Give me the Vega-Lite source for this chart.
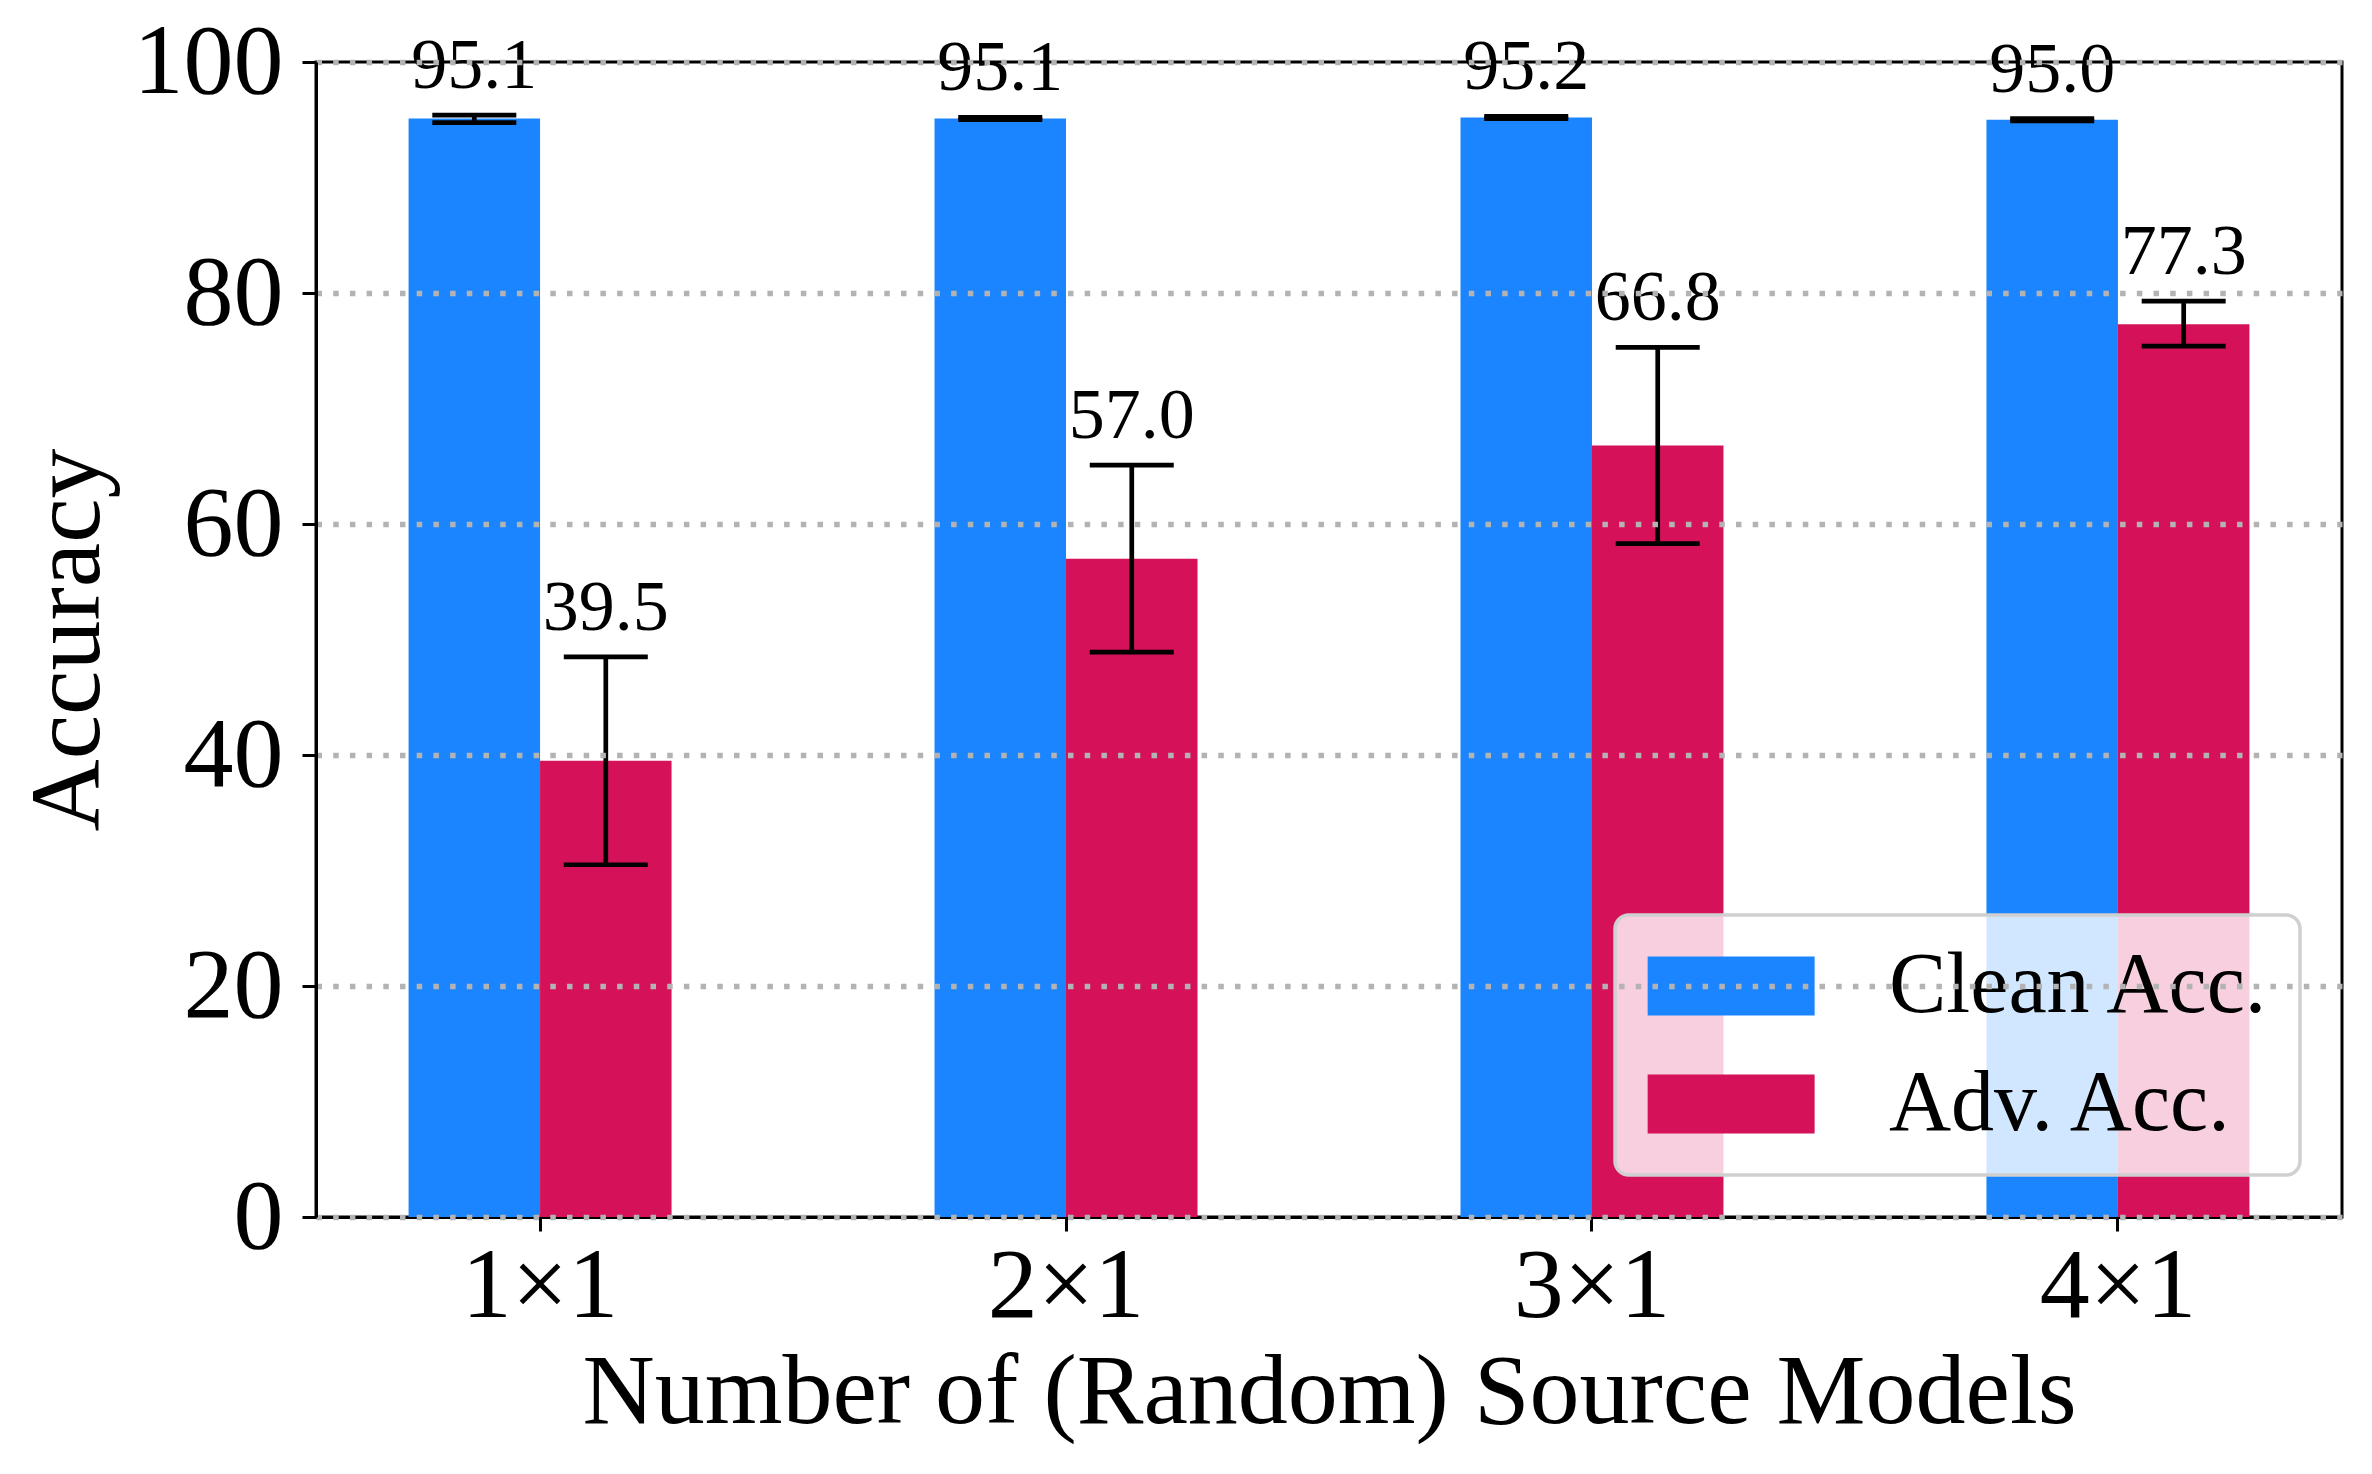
{
  "$schema": "https://vega.github.io/schema/vega-lite/v6.json",
  "width": 2026,
  "height": 1155,
  "autosize": {"type": "none"},
  "padding": {"left": 316, "top": 62, "right": 30, "bottom": 257},
  "background": "white",
  "config": {
    "font": "Liberation Serif",
    "view": {"stroke": "black", "strokeWidth": 3},
    "axis": {
      "labelFont": "Liberation Serif",
      "titleFont": "Liberation Serif",
      "labelColor": "black",
      "titleColor": "black",
      "titleFontWeight": "normal",
      "domainColor": "black",
      "domainWidth": 3,
      "tickColor": "black",
      "tickWidth": 3,
      "tickSize": 14,
      "labelFontSize": 100,
      "titleFontSize": 100
    },
    "legend": {
      "labelFont": "Liberation Serif"
    }
  },
  "data": {
    "values": [
      {"model": "1×1", "metric": "Clean Acc.", "acc": 95.1, "lo": 94.75, "hi": 95.4},
      {"model": "1×1", "metric": "Adv. Acc.", "acc": 39.5, "lo": 30.5, "hi": 48.5},
      {"model": "2×1", "metric": "Clean Acc.", "acc": 95.1, "lo": 95.0, "hi": 95.2},
      {"model": "2×1", "metric": "Adv. Acc.", "acc": 57.0, "lo": 48.9, "hi": 65.1},
      {"model": "3×1", "metric": "Clean Acc.", "acc": 95.2, "lo": 95.1, "hi": 95.3},
      {"model": "3×1", "metric": "Adv. Acc.", "acc": 66.8, "lo": 58.3, "hi": 75.3},
      {"model": "4×1", "metric": "Clean Acc.", "acc": 95.0, "lo": 94.9, "hi": 95.1},
      {"model": "4×1", "metric": "Adv. Acc.", "acc": 77.3, "lo": 75.4, "hi": 79.3}
    ]
  },
  "encoding": {
    "x": {
      "field": "model",
      "type": "nominal",
      "sort": ["1×1", "2×1", "3×1", "4×1"],
      "scale": {"paddingInner": 0.5, "paddingOuter": 0.176},
      "title": "Number of (Random) Source Models",
      "axis": {"labelAngle": 0, "labelPadding": 6, "titlePadding": 7, "grid": false}
    },
    "xOffset": {
      "field": "metric",
      "type": "nominal",
      "sort": ["Clean Acc.", "Adv. Acc."],
      "scale": {"paddingInner": 0, "paddingOuter": 0}
    }
  },
  "layer": [
    {
      "mark": {"type": "bar"},
      "encoding": {
        "y": {
          "field": "acc",
          "type": "quantitative",
          "scale": {"domain": [0, 100], "nice": false},
          "title": "Accuracy",
          "axis": {
            "values": [0, 20, 40, 60, 80, 100],
            "grid": true,
            "gridColor": "#b3b3b3",
            "gridOpacity": 1,
            "gridWidth": 5.5,
            "gridDash": [5.5, 11.2],
            "labelPadding": 19,
            "titlePadding": 14,
            "zindex": 1
          }
        },
        "color": {
          "field": "metric",
          "type": "nominal",
          "scale": {"domain": ["Clean Acc.", "Adv. Acc."], "range": ["#1A85FF", "#D41159"]},
          "legend": {
            "title": null,
            "orient": "bottom-right",
            "offset": 42,
            "fillColor": "rgba(255,255,255,0.8)",
            "strokeColor": "#d0d0d0",
            "cornerRadius": 14,
            "padding": 28,
            "labelFontSize": 86,
            "labelColor": "black",
            "labelLimit": 0,
            "symbolType": "M-1.3,-1L4.36,-1L4.36,1L-1.3,1Z",
            "symbolSize": 3481,
            "symbolStrokeWidth": 0,
            "symbolOpacity": 1,
            "labelOffset": 160,
            "rowPadding": 32,
            "encode": {
              "legend": {"update": {"strokeWidth": {"value": 3.5}}}
            }
          }
        }
      }
    },
    {
      "mark": {"type": "rule", "color": "black", "strokeWidth": 4.7},
      "encoding": {
        "y": {"field": "lo", "type": "quantitative"},
        "y2": {"field": "hi"}
      }
    },
    {
      "mark": {"type": "tick", "color": "black", "thickness": 4.7, "size": 84, "opacity": 1},
      "encoding": {
        "y": {"field": "lo", "type": "quantitative"}
      }
    },
    {
      "mark": {"type": "tick", "color": "black", "thickness": 4.7, "size": 84, "opacity": 1},
      "encoding": {
        "y": {"field": "hi", "type": "quantitative"}
      }
    },
    {
      "mark": {"type": "text", "dy": -27, "baseline": "alphabetic", "fontSize": 72, "font": "Liberation Serif", "color": "black"},
      "encoding": {
        "y": {"field": "hi", "type": "quantitative"},
        "text": {"field": "acc", "type": "quantitative", "format": ".1f"}
      }
    }
  ]
}
